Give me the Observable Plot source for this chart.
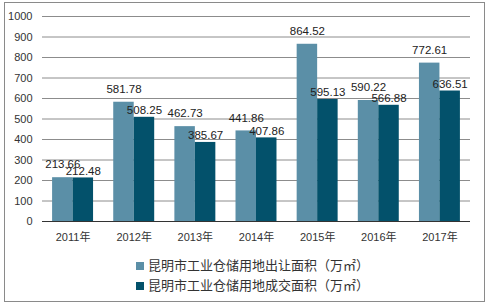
<!DOCTYPE html>
<html>
<head>
<meta charset="utf-8">
<script src="https://cdn.jsdelivr.net/npm/d3@7"></script>
<script src="https://cdn.jsdelivr.net/npm/@observablehq/plot@0.6"></script>
<style>
  body { margin: 0; background: #fff; }
  #frame {
    position: absolute; left: 4px; top: 2px; width: 479px; height: 298px;
    border: 1px solid #8a8a8a; background: #fff; overflow: hidden;
    font-family: "Liberation Sans", "Noto Sans CJK SC", sans-serif;
  }
  #legend { margin-top: 12px; text-align: center; font-size: 13px; color: #333; line-height: 20px;
    font-family: "Noto Sans CJK SC", sans-serif; }
  .sw { display: inline-block; width: 8px; height: 8px; margin-right: 4px; vertical-align: 0px; }
  .row { white-space: nowrap; padding-left: 16px; }
</style>
</head>
<body>
<div id="frame"></div>
<script>
const years = [2011, 2012, 2013, 2014, 2015, 2016, 2017];
const transferArea = [213.66, 581.78, 462.73, 441.86, 864.52, 590.22, 772.61];
const dealArea = [212.48, 508.25, 385.67, 407.86, 595.13, 566.88, 636.51];
const seriesNames = ["昆明市工业仓储用地出让面积（万㎡）", "昆明市工业仓储用地成交面积（万㎡）"];
const yTicks = [0, 100, 200, 300, 400, 500, 600, 700, 800, 900, 1000];
const colors = ["#5b8fa7", "#03516b"];

const half = 0.335;
const rows = years.map((y, i) => ({year: y, a: transferArea[i], b: dealArea[i]}));

const chart = Plot.plot({
  width: 479,
  height: 240,
  marginLeft: 37,
  marginRight: 14,
  marginTop: 13,
  marginBottom: 22,
  style: {fontSize: "11px", fontFamily: "'Liberation Sans', 'Noto Sans CJK SC', sans-serif", color: "#333", background: "transparent"},
  x: {type: "linear", domain: [2010.5, 2017.5]},
  y: {domain: [0, 1000]},
  marks: [
    Plot.ruleY(yTicks.filter(t => t > 0), {stroke: "#8c8c8c", strokeWidth: 1, strokeOpacity: 1}),
    Plot.rectY(rows, {x1: d => d.year - half, x2: d => d.year, y: "a", fill: colors[0]}),
    Plot.rectY(rows, {x1: d => d.year, x2: d => d.year + half, y: "b", fill: colors[1]}),
    Plot.ruleY([0], {stroke: "#333", strokeWidth: 1}),
    Plot.text(rows, {x: d => d.year - half / 2, y: "a", text: d => d.a.toFixed(2), dy: -13, fill: "#222", fontSize: 11.5}),
    Plot.text(rows, {x: d => d.year + half / 2, y: "b", text: d => d.b.toFixed(2), dy: -7, fill: "#222", fontSize: 11.5}),
    Plot.axisX(years, {tickSize: 0, tickPadding: 12, tickFormat: d => d + "年", label: null, fill: "#333"}),
    Plot.axisY(yTicks, {tickSize: 0, tickPadding: 10, tickFormat: d => String(d), label: null, fill: "#333"})
  ]
});

const frame = document.getElementById("frame");
frame.appendChild(chart);
const legend = document.createElement("div");
legend.id = "legend";
seriesNames.forEach((name, i) => {
  const row = document.createElement("div");
  row.className = "row";
  const sw = document.createElement("span");
  sw.className = "sw";
  sw.style.background = colors[i];
  row.appendChild(sw);
  row.appendChild(document.createTextNode(name));
  legend.appendChild(row);
});
frame.appendChild(legend);
</script>
</body>
</html>
